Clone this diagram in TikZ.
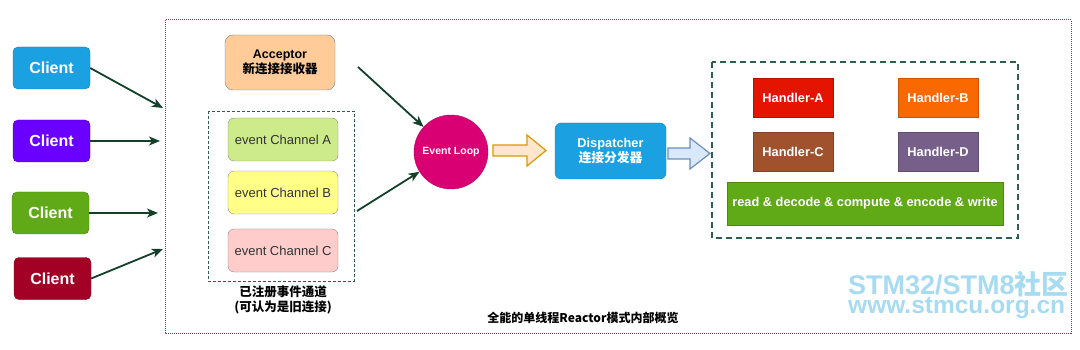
\documentclass[tikz,border=0pt]{standalone}
\usepackage{fontspec}
\setmainfont{Liberation Sans}
\newfontfamily\cjk{Noto Sans CJK SC}
\usetikzlibrary{arrows.meta}
\definecolor{arrowgreen}{HTML}{12402A}
\definecolor{framegreen}{HTML}{2F5F4A}
\definecolor{cblue}{HTML}{1BA1E2}
\definecolor{cpurple}{HTML}{6A00FF}
\definecolor{cgreen}{HTML}{60A917}
\definecolor{cred}{HTML}{A20025}
\definecolor{accfill}{HTML}{FFCC99}
\definecolor{chA}{HTML}{CDEB8B}
\definecolor{chB}{HTML}{FFFF88}
\definecolor{chC}{HTML}{FFCCCC}
\definecolor{elfill}{HTML}{D80073}
\definecolor{orfill}{HTML}{FFE6CC}
\definecolor{orline}{HTML}{D79B00}
\definecolor{blfill}{HTML}{DAE8FC}
\definecolor{blline}{HTML}{6C8EBF}
\definecolor{hA}{HTML}{E51400}
\definecolor{hB}{HTML}{FA6800}
\definecolor{hC}{HTML}{A0522D}
\definecolor{hD}{HTML}{76608A}
\definecolor{wmark}{HTML}{A6DBF2}
\begin{document}
\begin{tikzpicture}[x=1pt,y=-1pt,
  client/.style={rounded corners=5pt,draw=#1!75!black,fill=#1,minimum width=77pt,minimum height=42pt,
    text=white,font=\fontsize{16}{18}\selectfont\bfseries,inner sep=0pt},
  chan/.style={rounded corners=6pt,draw=black!45,fill=#1,minimum width=110pt,minimum height=43pt,
    text=black!80,font=\fontsize{13}{15}\selectfont,inner sep=0pt},
  handler/.style={draw=#1!80!black,fill=#1,minimum width=80pt,minimum height=39pt,
    text=white,font=\fontsize{12.8}{15}\selectfont\bfseries,inner sep=0pt},
  conn/.style={draw=arrowgreen,line width=1.8pt,-{Stealth[length=11pt,width=9pt,inset=3pt]}},
]
\useasboundingbox (0,0) rectangle (1080,350);

% watermark (under the frame)
\node[text=wmark,inner sep=0pt,anchor=base west,align=left,
  font=\fontsize{27}{19}\selectfont\bfseries] (wm) at (848,313)
  {STM32/STM8{\cjk\bfseries 社区}\\{\fontsize{24.5}{19}\selectfont www.stmcu.org.cn}};

% outer frame
\draw[framegreen,line width=1pt,dash pattern=on 1pt off 1pt] (165,20) rectangle (1071,333);

% clients
\node[client=cblue]   (c1) at (51.5,68)   {Client};
\node[client=cpurple] (c2) at (51.5,141)  {Client};
\node[client=cgreen]  (c3) at (50.5,213)  {Client};
\node[client=cred]    (c4) at (52.5,278.5){Client};
\coordinate (t1) at (163,108);
\coordinate (t2) at (160,141);
\coordinate (t3) at (158,213);
\coordinate (t4) at (163,249);
\draw[conn] (c1.east) -- (t1);
\draw[conn] (c2.east) -- (t2);
\draw[conn] (c3.east) -- (t3);
\draw[conn] (c4.east) -- (t4);

% acceptor
\node[rounded corners=8pt,draw=black!50,fill=accfill,minimum width=110pt,minimum height=55pt,
  align=center,font=\fontsize{12.5}{15}\selectfont\bfseries,inner sep=0pt] (acc) at (280,62.5)
  {Acceptor\\{\cjk\bfseries 新连接接收器}};

% channels
\draw[framegreen,line width=0.8pt,dash pattern=on 3pt off 2pt] (208,111) rectangle (354,281);
\node[chan=chA] (chA) at (283,139.5) {event Channel A};
\node[chan=chB] (chB) at (283,192.5) {event Channel B};
\node[chan=chC] (chC) at (283,250.5) {event Channel C};
\node[align=center,font=\fontsize{12.5}{15}\selectfont\cjk\bfseries,inner sep=0pt] (lbl) at (283,299.5)
  {已注册事件通道\\(可认为是旧连接)};

% event loop
\node[circle,fill=elfill,draw=elfill!85!black,minimum size=74pt,inner sep=0pt,text=white,
  font=\fontsize{10.5}{12}\selectfont\bfseries] (el) at (451,152) {Event Loop};
\coordinate (s1) at (358,67);
\coordinate (s2) at (357,211);
\draw[conn] (s1) -- (el);
\draw[conn] (s2) -- (el);

% orange block arrow
\draw[orline,fill=orfill,line width=1.2pt,line join=miter]
  (493,145) -- (527,145) -- (527,135) -- (546,150.5) -- (527,166) -- (527,156) -- (493,156) -- cycle;

% dispatcher
\node[rounded corners=6pt,draw=cblue!85!black,fill=cblue,minimum width=111pt,minimum height=56pt,
  align=center,text=white,font=\fontsize{12.8}{15}\selectfont\bfseries,inner sep=0pt] (disp) at (610.5,151)
  {Dispatcher\\{\cjk\bfseries 连接分发器}};

% blue block arrow
\draw[blline,fill=blfill,line width=1.2pt,line join=miter]
  (668,148) -- (690,148) -- (690,138) -- (710,153.5) -- (690,169) -- (690,159) -- (668,159) -- cycle;

% handlers
\draw[framegreen,line width=1.6pt,dash pattern=on 6pt off 4pt] (712,62) rectangle (1018,238);
\node[handler=hA] (hA) at (793,97.5)  {Handler-A};
\node[handler=hB] (hB) at (938,97.5)  {Handler-B};
\node[handler=hC] (hC) at (793,151.5) {Handler-C};
\node[handler=hD] (hD) at (938,151.5) {Handler-D};
\node[draw=cgreen!80!black,fill=cgreen,minimum width=276pt,minimum height=43pt,text=white,
  font=\fontsize{12.8}{15}\selectfont\bfseries,inner sep=0pt] (bar) at (865,203.5)
  {read \& decode \& compute \& encode \& write};

% footer
\node[font=\fontsize{12}{14}\selectfont\cjk\bfseries,inner sep=0pt] (foot) at (583,318)
  {全能的单线程Reactor模式内部概览};
\end{tikzpicture}
\end{document}
